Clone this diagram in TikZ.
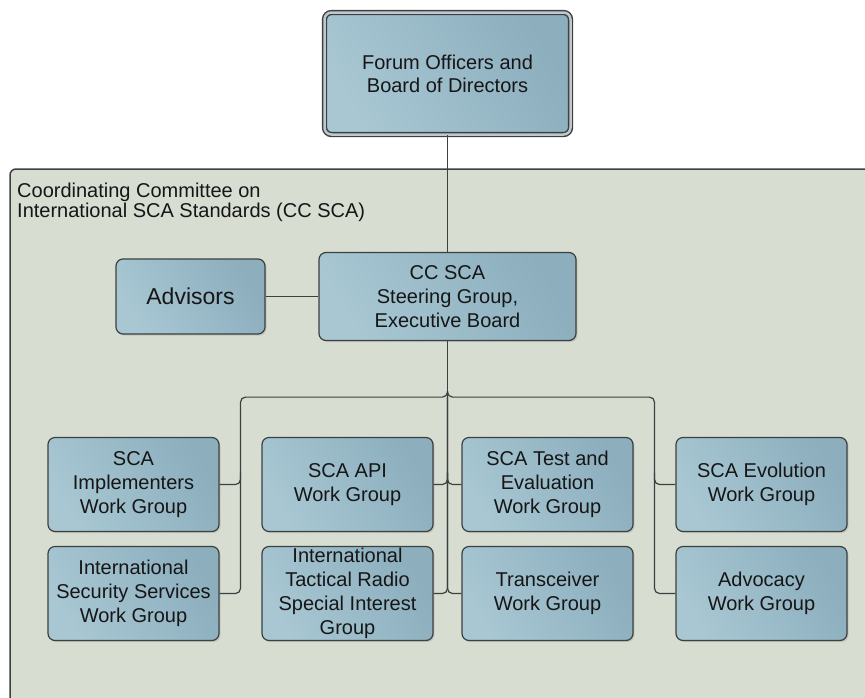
\documentclass[tikz,border=0pt]{standalone}
\usepackage{fontspec}
\setmainfont{Liberation Sans}
\usetikzlibrary{positioning,calc,shadows}
\definecolor{boxlight}{RGB}{168,199,211}
\definecolor{boxdark}{RGB}{140,174,189}
\definecolor{panel}{RGB}{216,221,210}
\definecolor{edge}{RGB}{60,64,64}
\definecolor{ink}{RGB}{22,22,22}

\begin{document}
\begin{tikzpicture}[on grid,
	unit/.style={draw=edge, line width=1.2pt, rounded corners=7pt, left color=boxlight, right color=boxdark, shading angle=120,
		drop shadow={opacity=0.25, shadow xshift=1.5pt, shadow yshift=-1.5pt},
		text=ink, align=center, inner sep=0pt, font=\fontsize{20}{24}\selectfont},
	wg/.style={unit, minimum width=171pt, minimum height=94pt},
	link/.style={draw=edge, line width=1.2pt, rounded corners=5pt}]

\useasboundingbox (0,0) rectangle (865pt,-697pt);

% committee panel
\filldraw[fill=panel, draw=edge, line width=1.5pt, rounded corners=6pt] (10pt,-730pt) |- (900pt,-169pt) -- (900pt,-730pt) -- cycle;
\node[anchor=north west, align=left, inner sep=0pt, text=ink, font=\fontsize{20}{19.5}\selectfont] (cc_title) at (17pt,-183pt)
	{Coordinating Committee on\\International SCA Standards (CC SCA)};

\node[unit, minimum width=246pt, minimum height=122pt, double=boxlight!50!gray!60!white, double distance=2.5pt, line width=1.4pt, font=\fontsize{20}{23}\selectfont]
									(forum)								at (447.5pt,-73.5pt)	{Forum Officers and\\Board of Directors};
\node[unit, minimum width=257pt, minimum height=88pt]		(steering)	[below=223pt of forum]						{CC SCA\\Steering Group,\\Executive Board};
\node[unit, minimum width=149pt, minimum height=75pt, font=\fontsize{23}{26}\selectfont]
									(advisors)	[left=257pt of steering]					{Advisors};

\node[wg]							(wg_api)	[below left=188pt and 100pt of steering]	{SCA API\\Work Group};
\node[wg]							(wg_test)	[below right=188pt and 100pt of steering]	{SCA Test and\\Evaluation\\Work Group};
\node[wg]							(wg_impl)	[left=214pt of wg_api]						{SCA\\Implementers\\Work Group};
\node[wg]							(wg_evol)	[right=214pt of wg_test]					{SCA Evolution\\Work Group};
\node[wg]							(wg_iss)	[below=109pt of wg_impl]					{International\\Security Services\\Work Group};
\node[wg]							(sig_itr)	[below=109pt of wg_api]						{International\\Tactical Radio\\Special Interest\\Group};
\node[wg]							(wg_trx)	[below=109pt of wg_test]					{Transceiver\\Work Group};
\node[wg]							(wg_adv)	[below=109pt of wg_evol]					{Advocacy\\Work Group};

% connectors
\coordinate (bus)	at ($(steering.south)+(0,-56pt)$);
\coordinate (lsplit)	at ($(wg_impl.east)!0.5!(wg_api.west)$);
\coordinate (rsplit)	at ($(wg_test.east)!0.5!(wg_evol.west)$);

\draw[link] (forum) -- (steering);
\draw[link] (advisors) -- (steering);
\draw[link] (steering) -- (bus);

\draw[link] ($(bus)+(0,6pt)$) |- (lsplit |- bus) |- (wg_iss.east);
\draw[link] ($(lsplit |- wg_impl)+(0,12pt)$) |- (wg_impl.east);
\draw[link] ($(bus)+(0,6pt)$) |- (rsplit |- bus) |- (wg_adv.west);
\draw[link] ($(rsplit |- wg_evol)+(0,12pt)$) |- (wg_evol.west);

\draw[link] (bus) |- (sig_itr.east);
\draw[link] (bus) |- (wg_trx.west);
\draw[link] ($(bus |- wg_api)+(0,12pt)$) |- (wg_api.east);
\draw[link] ($(bus |- wg_test)+(0,12pt)$) |- (wg_test.west);
\end{tikzpicture}
\end{document}
